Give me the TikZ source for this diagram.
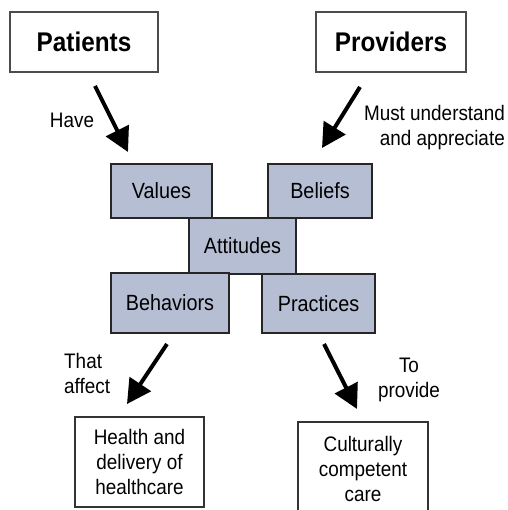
\documentclass[tikz,border=0pt]{standalone}
\usepackage{fontspec}
\setmainfont[FakeStretch=0.9]{Liberation Sans}
\usepackage{xcolor}
\usetikzlibrary{arrows.meta,positioning}

\definecolor{boxblue}{RGB}{182,190,211}

\tikzset{
  topbox/.style={draw=black!70,line width=1.3pt,inner sep=0pt,
    minimum height=60pt,font=\fontsize{27}{30}\selectfont\bfseries},
  midbox/.style={draw=black!85,fill=boxblue,line width=1.5pt,inner sep=0pt,
    font=\fontsize{22}{25}\selectfont},
  endbox/.style={draw=black!80,line width=1.3pt,inner sep=0pt,align=center,
    font=\fontsize{21}{25}\selectfont},
  lbl/.style={inner sep=0pt,font=\fontsize{21}{25}\selectfont},
  bigarrow/.style={line width=4pt,-{Triangle[length=24pt,width=25pt]}}
}

\begin{document}
\begin{tikzpicture}[x=1pt,y=-1pt]
\clip (0,0) rectangle (507,510);

% who
\node[topbox,minimum width=148pt] (patients) at (84,42) {Patients\hspace{6pt}};
\node[topbox,minimum width=150pt] (providers) at (391,42) {Providers};

% the cluster
\node[midbox,minimum width=101pt,minimum height=54pt] (values) at (161.5,191) {Values};
\node[midbox,minimum width=104pt,minimum height=54pt] (beliefs) at (320,191) {Beliefs};
\node[midbox,minimum width=107pt,minimum height=56pt] (attitudes) at (242.5,246) {Attitudes};
\node[midbox,minimum width=118pt,minimum height=60pt] (behaviors) at (170,303) {Behaviors};
\node[midbox,minimum width=113pt,minimum height=59pt] (practices) at (318.5,303.5) {Practices};

% outcomes
\node[endbox,minimum width=129pt,minimum height=90pt] (health) at (139.5,462)
  {Health and\\delivery of\\healthcare};
\node[endbox,minimum width=130pt,minimum height=93pt] (care) at (363,468.5)
  {Culturally\\competent\\care};

% arrow ends
\coordinate (have-a) at (95,86);
\coordinate (have-b) at (128,152);
\coordinate (must-a) at (360,87);
\coordinate (must-b) at (322,148);
\coordinate (affect-a) at (167,344);
\coordinate (affect-b) at (127,404);
\coordinate (provide-a) at (324,344);
\coordinate (provide-b) at (357,409);

\draw[bigarrow] (have-a) -- (have-b);
\draw[bigarrow] (must-a) -- (must-b);
\draw[bigarrow] (affect-a) -- (affect-b);
\draw[bigarrow] (provide-a) -- (provide-b);

\node[lbl] (have) at (72,120) {Have};
\node[lbl,align=right,anchor=east] (must) at (505,128) {Must understand\\and appreciate};
\node[lbl,align=left,anchor=west] (affect) at (64,373) {That\\affect};
\node[lbl,align=center] (provide) at (409,380) {To\\provide};
\end{tikzpicture}
\end{document}
